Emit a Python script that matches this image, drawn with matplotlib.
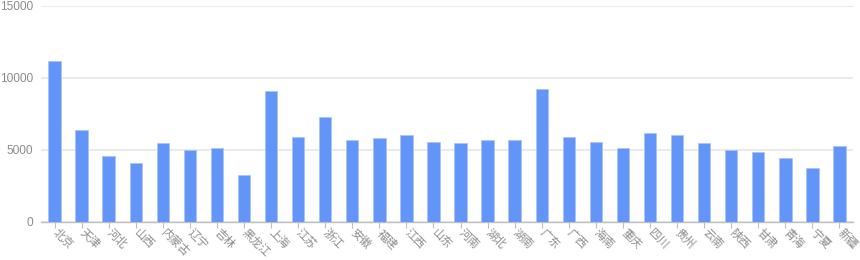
import matplotlib
matplotlib.use("Agg")
import matplotlib.pyplot as plt
import numpy as np

plt.rcParams['font.family'] = ['Noto Sans CJK SC', 'DejaVu Sans']

provinces = ["北京", "天津", "河北", "山西", "内蒙古", "辽宁", "吉林", "黑龙江", "上海", "江苏",
             "浙江", "安徽", "福建", "江西", "山东", "河南", "湖北", "湖南", "广东", "广西",
             "海南", "重庆", "四川", "贵州", "云南", "陕西", "甘肃", "青海", "宁夏", "新疆"]
values = [11200, 6390, 4560, 4100, 5490, 4980, 5120, 3290, 9100, 5880,
          7270, 5690, 5830, 6020, 5530, 5460, 5690, 5670, 9240, 5900,
          5560, 5120, 6180, 6020, 5510, 4980, 4860, 4470, 3750, 5260]
y_ticks = [0, 5000, 10000, 15000]

fig = plt.figure(figsize=(8.6, 2.6), dpi=100)
ax = fig.add_axes([41/860, 38/260, 812/860, 216/260])

x = np.arange(len(provinces))
ax.bar(x, values, width=0.46, color="#6395F9", edgecolor="#A9C4FB", linewidth=0.6, zorder=3)

ax.set_xlim(-0.5, len(provinces) - 0.5)
ax.set_ylim(0, 15000)
ax.set_yticks(y_ticks)
ax.set_yticklabels([str(v) for v in y_ticks], family=['Liberation Sans', 'DejaVu Sans'])
ax.yaxis.grid(True, color="#E6E6E6", linewidth=1.2, zorder=0)
ax.tick_params(axis='y', length=0, labelsize=8.6, labelcolor="#8C8C8C", pad=5.8)

ax.set_xticks(x)
ax.set_xticklabels(provinces, rotation=-45, ha='left', va='center', rotation_mode='anchor')
ax.tick_params(axis='x', length=4, color="#BFBFBF", labelsize=8.2, labelcolor="#8C8C8C", pad=2.5)

for s in ['top', 'right', 'left']:
    ax.spines[s].set_visible(False)
ax.spines['bottom'].set_color("#BFBFBF")
ax.spines['bottom'].set_linewidth(1)

fig.savefig("out.png", dpi=100)
